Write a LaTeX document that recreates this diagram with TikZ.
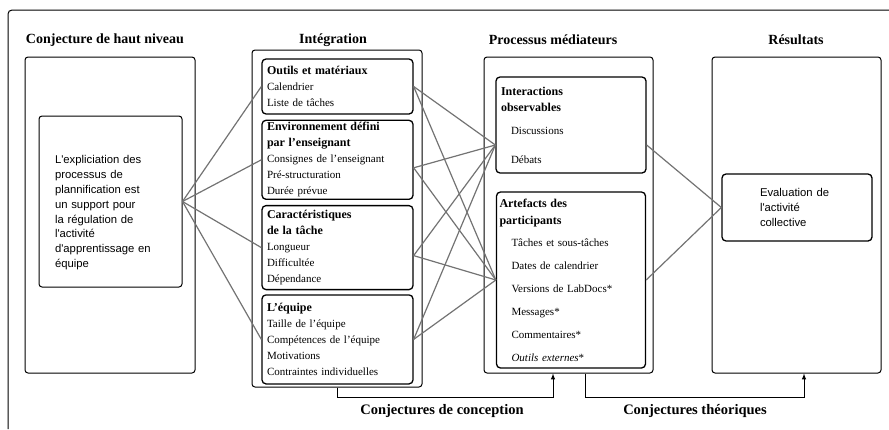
\documentclass[tikz,border=0pt]{standalone}
\usepackage{fontspec}
\setmainfont{Liberation Serif}
\newfontfamily\arialfont{Liberation Sans}
\usepackage{tikz}
\usetikzlibrary{shapes.geometric, arrows, positioning}
\tikzstyle{title} = [font=\fontsize{14}{16}\selectfont\bfseries, inner sep=0pt]
\tikzstyle{column} = [rectangle, rounded corners=3pt, draw=black, line width=1pt, inner sep=0pt]
\tikzstyle{block} = [rectangle, rounded corners=4pt, draw=black, line width=1.3pt, text width=141pt, align=left, inner xsep=5pt, inner ysep=0pt, minimum width=151pt, font=\fontsize{11}{16}\selectfont]
\tikzstyle{hbox} = [rectangle, rounded corners=3pt, draw=black, line width=1pt, align=left, inner sep=0pt, font=\arialfont\fontsize{11.3}{14.8}\selectfont]
\tikzstyle{link} = [draw=black!55, line width=1.2pt]
\tikzstyle{arrow} = [line width=1pt, ->, >=latex]
\newcommand{\hd}[1]{{\fontsize{12}{16}\selectfont\bfseries #1}}

\begin{document}
\begin{tikzpicture}[x=1pt, y=-1pt, node distance=4pt]
	
	\useasboundingbox (0,0) rectangle (889,429);
	\draw [line width=1pt, rounded corners=4pt] (889,10) -- (8,10) -- (8,429);
	
	\node (t1) [title] at (105,40) {Conjecture de haut niveau};
	\node (t2) [title] at (333,40) {Intégration};
	\node (t3) [title] at (553,40) {Processus médiateurs};
	\node (t4) [title] at (796,40) {Résultats};
	
	\node (col1) [column, minimum width=170pt, minimum height=316pt] at (110,215) {};
	\node (col2) [column, minimum width=170pt, minimum height=337pt] at (337,218.5) {};
	\node (col3) [column, minimum width=169pt, minimum height=316pt] at (568.5,215) {};
	\node (col4) [column, minimum width=169pt, minimum height=316pt] at (796.5,215) {};
	
	\node (hl) [hbox, text width=111pt, minimum width=143pt, minimum height=171pt] at (110.5,201.5) {\mbox{}\\[16pt]L'expliciation des\\processus de\\plannification est\\un support pour\\la régulation de\\l'activité\\d'apprentissage en\\équipe};
	
	\node (in1) [block, minimum height=55pt] at (337.5,86.5) {\hd{Outils et matériaux}\\Calendrier\\Liste de tâches};
	\node (in2) [block, minimum height=79pt, below=5pt of in1] {\hd{Environnement défini}\\\hd{par l'enseignant}\\Consignes de l'enseignant\\Pré-structuration\\Durée prévue};
	\node (in3) [block, minimum height=84pt, below=5pt of in2] {\hd{Caractéristiques}\\\hd{de la tâche}\\Longueur\\Difficultée\\Dépendance};
	\node (in4) [block, minimum height=89pt, below=4pt of in3] {\hd{L'équipe}\\Taille de l'équipe\\Compétences de l'équipe\\Motivations\\Contraintes individuelles};
	
	\node (pm1) [block, minimum width=150pt, text width=140pt, minimum height=96pt] at (571,125) {\hd{Interactions}\\\hd{observables}\\[7pt]\hspace*{10pt}Discussions\\[13pt]\hspace*{10pt}Débats};
	\node (pm2) [block, minimum width=149pt, text width=143pt, inner xsep=3pt, minimum height=176pt] at (571,280) {\hd{Artefacts des}\\[1pt]\hd{participants}\\[6pt]\hspace*{12pt}Tâches et sous-tâches\\[7pt]\hspace*{12pt}Dates de calendrier\\[7pt]\hspace*{12pt}Versions de LabDocs*\\[7pt]\hspace*{12pt}Messages*\\[7pt]\hspace*{12pt}Commentaires*\\[7pt]\hspace*{12pt}\textit{Outils externes}*};
	
	\node (res) [hbox, text width=74pt, minimum width=150pt, minimum height=67pt, line width=1.3pt, rounded corners=4pt] at (797,207.5) {Evaluation de\\l'activité\\collective};
	
	\draw [link] (hl.east) -- (in1.west);
	\draw [link] (hl.east) -- (in2.west);
	\draw [link] (hl.east) -- (in3.west);
	\draw [link] (hl.east) -- (in4.west);
	
	\draw [link] (in1.east) -- ([yshift=-20pt]pm1.west);
	\draw [link] (in1.east) -- (pm2.west);
	\draw [link] ([yshift=-8pt]in2.east) -- ([yshift=-20pt]pm1.west);
	\draw [link] ([yshift=-8pt]in2.east) -- (pm2.west);
	\draw [link] ([yshift=-8pt]in3.east) -- ([yshift=-20pt]pm1.west);
	\draw [link] ([yshift=-8pt]in3.east) -- (pm2.west);
	\draw [link] (in4.east) -- ([yshift=-20pt]pm1.west);
	\draw [link] (in4.east) -- (pm2.west);
	
	\draw [link] ([yshift=-20pt]pm1.east) -- (res.west);
	\draw [link] (pm2.east) -- (res.west);
	
	\coordinate (base) at (0,397);
	\coordinate (c3in) at ([xshift=-15.5pt]col3.south);
	\coordinate (c3out) at ([xshift=16.5pt]col3.south);
	\coordinate (c4in) at ([xshift=7.5pt]col4.south);
	
	\draw [arrow] (col2.south) -- (col2.south |- base) -| (c3in);
	\draw [arrow] (c3out) -- (c3out |- base) -| (c4in);
	
	\node (cc) [title, font=\fontsize{14.5}{16}\selectfont\bfseries] at (442,411) {Conjectures de conception};
	\node (ct) [title, font=\fontsize{14.5}{16}\selectfont\bfseries] at (695,411) {Conjectures théoriques};
	
\end{tikzpicture}
\end{document}
